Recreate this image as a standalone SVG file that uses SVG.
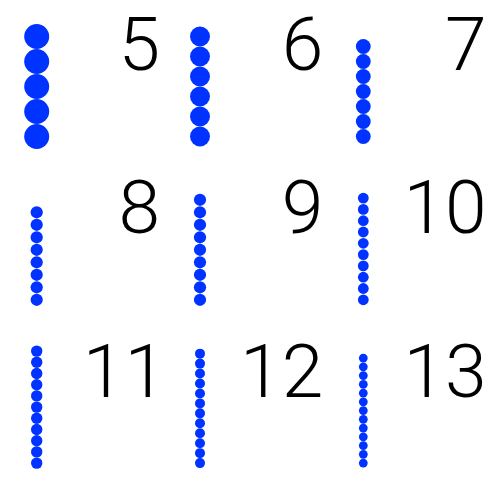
<svg xmlns="http://www.w3.org/2000/svg" width="500" height="500" viewBox="0 0 500 500">
<style>
.b{fill:#0033FF}
.n{font-family:Roboto,"Liberation Sans",sans-serif;font-weight:300;font-size:75px;fill:#000;text-anchor:end}
</style>
<rect width="500" height="500" fill="#fff"/>
<g id="n5">
<g class="b"><circle cx="36.7" cy="36.5" r="12.5"/><circle cx="36.7" cy="61.5" r="12.5"/><circle cx="36.7" cy="86.5" r="12.5"/><circle cx="36.7" cy="111.5" r="12.5"/><circle cx="36.7" cy="136.5" r="12.5"/></g>
<text class="n" x="160" y="70">5</text>
</g>
<g id="n6">
<g class="b"><circle cx="200" cy="36.5" r="10"/><circle cx="200" cy="56.5" r="10"/><circle cx="200" cy="76.5" r="10"/><circle cx="200" cy="96.5" r="10"/><circle cx="200" cy="116.5" r="10"/><circle cx="200" cy="136.5" r="10"/></g>
<text class="n" x="323.3" y="70">6</text>
</g>
<g id="n7">
<g class="b"><circle cx="363.3" cy="46.5" r="7.4"/><circle cx="363.3" cy="61.5" r="7.4"/><circle cx="363.3" cy="76.5" r="7.4"/><circle cx="363.3" cy="91.5" r="7.4"/><circle cx="363.3" cy="106.5" r="7.4"/><circle cx="363.3" cy="121.5" r="7.4"/><circle cx="363.3" cy="136.5" r="7.4"/></g>
<text class="n" x="486.6" y="70">7</text>
</g>
<g id="n8">
<g class="b"><circle cx="36.7" cy="212.3" r="6.1"/><circle cx="36.7" cy="224.8" r="6.1"/><circle cx="36.7" cy="237.3" r="6.1"/><circle cx="36.7" cy="249.8" r="6.1"/><circle cx="36.7" cy="262.3" r="6.1"/><circle cx="36.7" cy="274.8" r="6.1"/><circle cx="36.7" cy="287.3" r="6.1"/><circle cx="36.7" cy="299.8" r="6.1"/></g>
<text class="n" x="160" y="233">8</text>
</g>
<g id="n9">
<g class="b"><circle cx="200" cy="199.8" r="6.1"/><circle cx="200" cy="212.3" r="6.1"/><circle cx="200" cy="224.8" r="6.1"/><circle cx="200" cy="237.3" r="6.1"/><circle cx="200" cy="249.8" r="6.1"/><circle cx="200" cy="262.3" r="6.1"/><circle cx="200" cy="274.8" r="6.1"/><circle cx="200" cy="287.3" r="6.1"/><circle cx="200" cy="299.8" r="6.1"/></g>
<text class="n" x="323.3" y="233">9</text>
</g>
<g id="n10">
<g class="b"><circle cx="363.3" cy="198.1" r="5.4"/><circle cx="363.3" cy="209.4" r="5.4"/><circle cx="363.3" cy="220.7" r="5.4"/><circle cx="363.3" cy="232" r="5.4"/><circle cx="363.3" cy="243.3" r="5.4"/><circle cx="363.3" cy="254.6" r="5.4"/><circle cx="363.3" cy="265.9" r="5.4"/><circle cx="363.3" cy="277.2" r="5.4"/><circle cx="363.3" cy="288.5" r="5.4"/><circle cx="363.3" cy="299.8" r="5.4"/></g>
<text class="n" x="486.6" y="233">10</text>
</g>
<g id="n11">
<g class="b"><circle cx="36.7" cy="351.1" r="5.7"/><circle cx="36.7" cy="362.3" r="5.7"/><circle cx="36.7" cy="373.5" r="5.7"/><circle cx="36.7" cy="384.7" r="5.7"/><circle cx="36.7" cy="395.9" r="5.7"/><circle cx="36.7" cy="407.1" r="5.7"/><circle cx="36.7" cy="418.3" r="5.7"/><circle cx="36.7" cy="429.5" r="5.7"/><circle cx="36.7" cy="440.7" r="5.7"/><circle cx="36.7" cy="451.9" r="5.7"/><circle cx="36.7" cy="463.1" r="5.7"/></g>
<text class="n" x="166" y="396.7">11</text>
</g>
<g id="n12">
<g class="b"><circle cx="200" cy="353.65" r="5"/><circle cx="200" cy="363.6" r="5"/><circle cx="200" cy="373.55" r="5"/><circle cx="200" cy="383.5" r="5"/><circle cx="200" cy="393.45" r="5"/><circle cx="200" cy="403.4" r="5"/><circle cx="200" cy="413.35" r="5"/><circle cx="200" cy="423.3" r="5"/><circle cx="200" cy="433.25" r="5"/><circle cx="200" cy="443.2" r="5"/><circle cx="200" cy="453.15" r="5"/><circle cx="200" cy="463.1" r="5"/></g>
<text class="n" x="323.3" y="396.7">12</text>
</g>
<g id="n13">
<g class="b"><circle cx="363.3" cy="358.1" r="4.4"/><circle cx="363.3" cy="366.85" r="4.4"/><circle cx="363.3" cy="375.6" r="4.4"/><circle cx="363.3" cy="384.35" r="4.4"/><circle cx="363.3" cy="393.1" r="4.4"/><circle cx="363.3" cy="401.85" r="4.4"/><circle cx="363.3" cy="410.6" r="4.4"/><circle cx="363.3" cy="419.35" r="4.4"/><circle cx="363.3" cy="428.1" r="4.4"/><circle cx="363.3" cy="436.85" r="4.4"/><circle cx="363.3" cy="445.6" r="4.4"/><circle cx="363.3" cy="454.35" r="4.4"/><circle cx="363.3" cy="463.1" r="4.4"/></g>
<text class="n" x="486.6" y="396.7">13</text>
</g>
</svg>
